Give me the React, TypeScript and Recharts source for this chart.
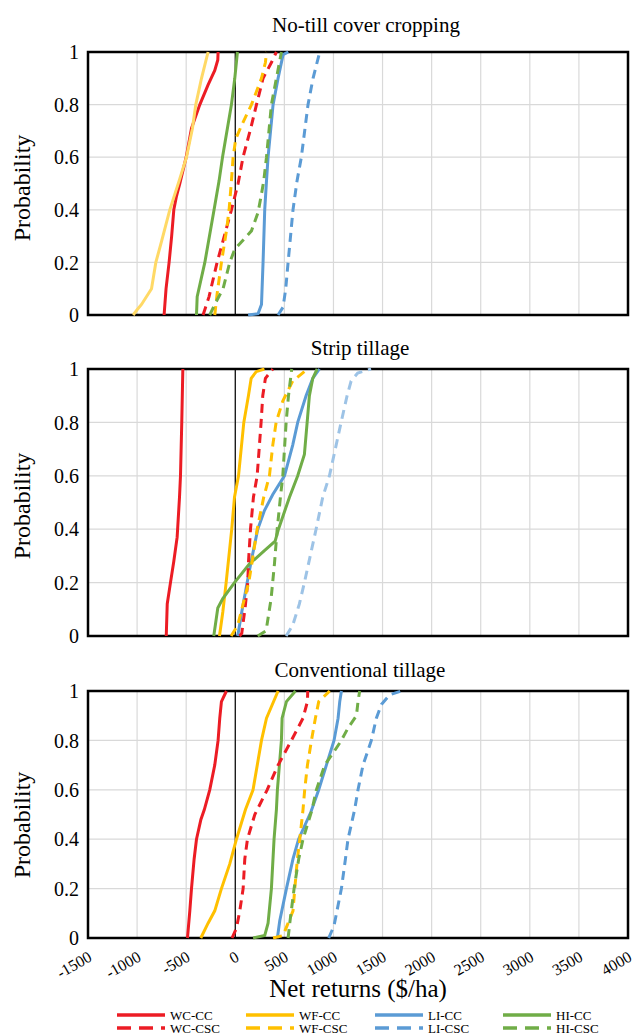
import React from "react";
import {
  LineChart,
  Line,
  XAxis,
  YAxis,
  CartesianGrid,
  ReferenceLine,
  ReferenceArea,
} from "recharts";

const serif = '"Liberation Serif", "Times New Roman", serif';

const xTicks = [-1500, -1000, -500, 0, 500, 1000, 1500, 2000, 2500, 3000, 3500, 4000];
const yTicks = [0, 0.2, 0.4, 0.6, 0.8, 1];
const panelTitles = ["No-till cover cropping", "Strip tillage", "Conventional tillage"];
const seriesNames = ["WC-CC", "WF-CC", "LI-CC", "HI-CC", "WC-CSC", "WF-CSC", "LI-CSC", "HI-CSC"];

// [probability, net return $/ha]
// no-till cover cropping
const ntWCCC = [[0, -725], [0.1, -705], [0.2, -674], [0.3, -648], [0.4, -626], [0.45, -600], [0.5, -565], [0.6, -500], [0.71, -446], [0.8, -361], [0.875, -277], [0.93, -209], [0.97, -178], [1, -175]];
const ntWFCC = [[0, -1040], [0.02, -1000], [0.04, -955], [0.1, -853], [0.2, -809], [0.28, -751], [0.4, -667], [0.51, -572], [0.6, -497], [0.71, -436], [0.8, -402], [0.9, -344], [1, -277]];
const ntLICC = [[0, 131], [0.005, 232], [0.04, 267], [0.2, 283], [0.4, 300], [0.51, 318], [0.6, 334], [0.8, 385], [0.9, 436], [0.99, 487], [1, 540]];
const ntHICC = [[0, -395], [0.07, -388], [0.2, -310], [0.4, -216], [0.51, -165], [0.6, -130], [0.8, -39], [0.9, -5], [1, 22]];
const ntWCCSC = [[0, -328], [0.07, -267], [0.2, -185], [0.32, -97], [0.4, -39], [0.5, 29], [0.6, 79], [0.71, 158], [0.8, 216], [0.9, 283], [0.96, 368], [1, 419]];
const ntWFCSC = [[0, -209], [0.08, -185], [0.2, -141], [0.32, -90], [0.4, -63], [0.51, -39], [0.6, -22], [0.67, 5], [0.72, 63], [0.8, 165], [0.9, 267], [0.96, 307], [1, 318]];
const ntLICSC = [[0, 436], [0.03, 487], [0.1, 514], [0.2, 538], [0.4, 588], [0.51, 629], [0.6, 673], [0.8, 741], [0.9, 792], [1, 860]];
const ntHICSC = [[0, -260], [0.04, -209], [0.1, -124], [0.2, -56], [0.25, -5], [0.32, 165], [0.39, 232], [0.46, 267], [0.51, 290], [0.6, 318], [0.8, 368], [0.9, 419], [1, 470]];

// strip tillage
const stWCCC = [[0, -703], [0.12, -693], [0.2, -660], [0.28, -626], [0.37, -592], [0.52, -568], [0.6, -558], [0.8, -545], [1, -534]];
const stWFCC = [[0, -161], [0.09, -127], [0.2, -93], [0.4, -36], [0.52, -8], [0.6, 33], [0.8, 87], [0.9, 134], [0.965, 162], [0.99, 213], [1, 297]];
const stLICC = [[0, 25], [0.09, 66], [0.2, 121], [0.28, 162], [0.4, 229], [0.47, 297], [0.53, 382], [0.6, 501], [0.715, 585], [0.8, 636], [0.9, 721], [0.965, 789], [1, 857]];
const stHICC = [[0, -219], [0.105, -178], [0.14, -127], [0.2, -8], [0.27, 145], [0.32, 297], [0.355, 406], [0.4, 440], [0.52, 552], [0.6, 636], [0.68, 704], [0.8, 732], [0.9, 755], [0.965, 789], [1, 834]];
const stWCCSC = [[0, 43], [0.01, 66], [0.105, 100], [0.2, 127], [0.28, 135], [0.4, 155], [0.52, 185], [0.6, 223], [0.8, 263], [0.9, 280], [0.965, 307], [1, 382]];
const stWFCSC = [[0, -42], [0.04, 25], [0.14, 94], [0.2, 137], [0.27, 168], [0.4, 223], [0.52, 290], [0.6, 348], [0.715, 382], [0.8, 416], [0.88, 484], [0.955, 585], [1, 738]];
const stLICSC = [[0, 518], [0.04, 585], [0.12, 653], [0.2, 704], [0.4, 823], [0.52, 891], [0.6, 959], [0.8, 1078], [0.9, 1139], [0.955, 1180], [0.985, 1247], [1, 1383]];
const stHICSC = [[0, 229], [0.02, 314], [0.14, 365], [0.27, 399], [0.4, 427], [0.52, 460], [0.6, 484], [0.8, 518], [0.9, 542], [1, 575]];

// conventional tillage
const ctWCCC = [[0, -487], [0.11, -463], [0.2, -446], [0.32, -419], [0.4, -395], [0.48, -350], [0.52, -315], [0.6, -260], [0.7, -209], [0.8, -175], [0.89, -158], [0.957, -141], [1, -90]];
const ctWFCC = [[0, -351], [0.06, -277], [0.11, -209], [0.2, -141], [0.3, -56], [0.4, 12], [0.52, 104], [0.6, 181], [0.8, 267], [0.89, 318], [1, 436]];
const ctLICC = [[0, 429], [0.07, 453], [0.2, 521], [0.32, 588], [0.4, 645], [0.51, 770], [0.6, 850], [0.7, 928], [0.8, 1006], [0.89, 1047], [0.957, 1064], [1, 1081]];
const ctHICC = [[0, 181], [0.01, 300], [0.06, 334], [0.2, 368], [0.4, 395], [0.52, 419], [0.6, 429], [0.8, 470], [0.89, 477], [0.957, 521], [1, 613]];
const ctWCCSC = [[0, -33], [0.04, 12], [0.11, 46], [0.2, 80], [0.32, 97], [0.4, 124], [0.5, 199], [0.6, 325], [0.7, 436], [0.8, 572], [0.89, 690], [0.957, 735], [1, 738]];
const ctWFCSC = [[0, 385], [0.01, 487], [0.06, 538], [0.11, 588], [0.2, 606], [0.32, 633], [0.4, 657], [0.52, 690], [0.6, 707], [0.7, 735], [0.8, 776], [0.89, 816], [0.957, 850], [1, 962]];
const ctLICSC = [[0, 952], [0.05, 1006], [0.2, 1081], [0.32, 1122], [0.4, 1148], [0.52, 1216], [0.6, 1250], [0.7, 1301], [0.8, 1386], [0.89, 1437], [0.945, 1488], [0.985, 1573], [1, 1692]];
const ctHICSC = [[0, 538], [0.06, 555], [0.2, 599], [0.32, 646], [0.4, 690], [0.52, 782], [0.6, 826], [0.7, 911], [0.755, 1006], [0.8, 1081], [0.85, 1148], [0.9, 1234], [0.957, 1250], [1, 1267]];

const RED = "#EC1C24";
const YELLOW = "#FFC000";
const BLUE = "#5B9BD5";
const GREEN = "#70AD47";

const baseColors: Record<string, string> = {
  "WC-CC": RED, "WC-CSC": RED,
  "WF-CC": YELLOW, "WF-CSC": YELLOW,
  "LI-CC": BLUE, "LI-CSC": BLUE,
  "HI-CC": GREEN, "HI-CSC": GREEN,
};

const panels = [
  {
    title: panelTitles[0],
    series: [ntWCCC, ntWFCC, ntLICC, ntHICC, ntWCCSC, ntWFCSC, ntLICSC, ntHICSC],
    colors: { "WF-CC": "#FFD966" } as Record<string, string>,
    top: 0, height: 330, margin: { top: 52, right: 7, bottom: 15, left: 0 },
    titleX: 366, titleY: 32, labelY: 188, showX: false,
  },
  {
    title: panelTitles[1],
    series: [stWCCC, stWFCC, stLICC, stHICC, stWCCSC, stWFCSC, stLICSC, stHICSC],
    colors: { "LI-CSC": "#9DC3E6" } as Record<string, string>,
    top: 340, height: 310, margin: { top: 29, right: 7, bottom: 14, left: 0 },
    titleX: 360, titleY: 355, labelY: 506, showX: false,
  },
  {
    title: panelTitles[2],
    series: [ctWCCC, ctWFCC, ctLICC, ctHICC, ctWCCSC, ctWFCSC, ctLICSC, ctHICSC],
    colors: {} as Record<string, string>,
    top: 660, height: 376, margin: { top: 31, right: 7, bottom: 68, left: 0 },
    titleX: 360, titleY: 677, labelY: 825, showX: true,
  },
];

const XTick = (props: any) => {
  const { x, y, payload } = props;
  const ax = x + 5;
  const ay = y + 20;
  return (
    <text x={ax} y={ay} transform={`rotate(-30 ${ax} ${ay})`} textAnchor="end"
      fontSize={16} fontFamily={serif} fill="#000">
      {payload.value}
    </text>
  );
};

const Panel = ({ p }: { p: (typeof panels)[number] }) => (
  <div style={{ position: "absolute", left: 0, top: p.top }}>
    <LineChart width={635} height={p.height} margin={p.margin}>
      <CartesianGrid stroke="#D9D9D9" strokeWidth={1.2} />
      <XAxis type="number" dataKey="x" domain={[-1500, 4000]} ticks={xTicks}
        allowDataOverflow hide={!p.showX} axisLine={false} tickLine={false}
        tickSize={0} height={30} interval={0} tick={<XTick />} />
      <YAxis type="number" dataKey="p" domain={[0, 1]} ticks={yTicks} width={88}
        axisLine={false} tickLine={false} tickSize={0} tickMargin={9}
        tick={{ fontSize: 20, fill: "#000", fontFamily: serif }} />
      <ReferenceLine x={0} stroke="#000" strokeWidth={1.2} />
      {p.series.map((s, i) => {
        const name = seriesNames[i];
        const dashed = name.endsWith("CSC");
        return (
          <Line key={name} name={name} data={s.map(([pr, v]) => ({ x: v, p: pr }))}
            dataKey="p" type="linear" stroke={p.colors[name] || baseColors[name]}
            strokeWidth={3} strokeDasharray={dashed ? "9 6" : undefined}
            dot={false} activeDot={false} isAnimationActive={false} />
        );
      })}
      <ReferenceArea x1={-1500} x2={4000} y1={0} y2={1} fill="none" fillOpacity={0}
        stroke="#000" strokeWidth={2.5} />
    </LineChart>
  </div>
);

const legendCols = [117, 246, 375, 503];
const legendRows = [1015, 1028];

export default function App() {
  return (
    <div style={{ position: "absolute", left: 0, top: 0, width: 635, height: 1036, background: "#fff" }}>
      {panels.map((p) => (
        <Panel key={p.title} p={p} />
      ))}
      <svg width={635} height={1036} style={{ position: "absolute", left: 0, top: 0, pointerEvents: "none" }}>
        {panels.map((p) => (
          <g key={p.title}>
            <text x={p.titleX} y={p.titleY} textAnchor="middle" fontSize={21} fontFamily={serif} fill="#000">
              {p.title}
            </text>
            <text transform={`translate(30 ${p.labelY}) rotate(-90)`} textAnchor="middle" fontSize={24}
              fontFamily={serif} fill="#000">
              Probability
            </text>
          </g>
        ))}
        <text x={358} y={997} textAnchor="middle" fontSize={25} fontFamily={serif} fill="#000">
          Net returns ($/ha)
        </text>
        {seriesNames.map((name, i) => {
          const cx = legendCols[i % 4];
          const cy = legendRows[Math.floor(i / 4)];
          const dashed = name.endsWith("CSC");
          return (
            <g key={name}>
              <line x1={cx} y1={cy} x2={cx + 48} y2={cy} stroke={baseColors[name]} strokeWidth={3.5}
                strokeDasharray={dashed ? "14 8" : undefined} />
              <text x={cx + 53} y={cy + 4.5} fontSize={13} fontFamily={serif} fill="#000">
                {name}
              </text>
            </g>
          );
        })}
      </svg>
    </div>
  );
}
